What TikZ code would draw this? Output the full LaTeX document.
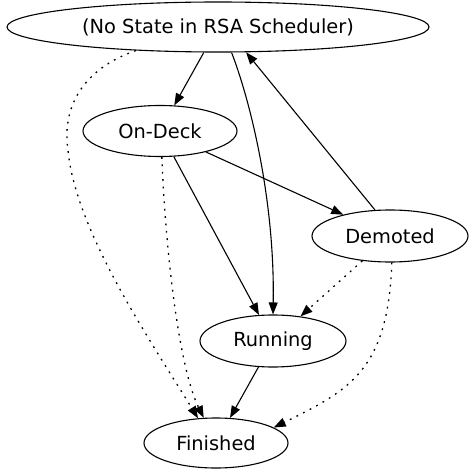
\documentclass[tikz,border=0pt]{standalone}
\usepackage{fontspec}
\setmainfont{DejaVu Sans}
\usetikzlibrary{shapes.geometric,arrows.meta}
\begin{document}
\begin{tikzpicture}[x=1pt,y=-1pt,
  state/.style={ellipse,draw,line width=1.1pt,inner sep=0pt,font=\fontsize{19.4}{23}\selectfont},
  edge/.style={line width=1.1pt,-{Triangle[length=12pt,width=9pt]}},
  dotedge/.style={edge,line width=1.3pt,dash pattern=on 1.8pt off 5.6pt}]
\useasboundingbox (0,0) rectangle (469,470);
\node[state,minimum width=422pt,minimum height=50pt] (top) at (218,27) {(No State in RSA Scheduler)};
\node[state,minimum width=154pt,minimum height=51pt] (ondeck) at (160,131) {On-Deck};
\node[state,minimum width=156pt,minimum height=52pt] (demoted) at (390,236) {Demoted};
\node[state,minimum width=146pt,minimum height=52pt] (running) at (273,341) {Running};
\node[state,minimum width=144pt,minimum height=50pt] (finished) at (216,443) {Finished};
\draw[edge] (top) -- (ondeck);
\draw[edge] (top.-62) .. controls (250,100) and (275,200) .. (running.north);
\draw[edge] (demoted.120) -- (top.-42);
\draw[dotedge] (top.-164) .. controls (80,70) and (62,110) .. (68,150) .. controls (75,230) and (150,340) .. (finished.126);
\draw[dotedge] (ondeck.-86) .. controls (166,260) and (180,370) .. (finished.116);
\draw[edge] (ondeck) -- (running);
\draw[edge] (ondeck) -- (demoted);
\draw[dotedge] (demoted) -- (running);
\draw[dotedge] (demoted.-86) .. controls (388,370) and (350,390) .. (finished.15);
\draw[edge] (running) -- (finished);
\end{tikzpicture}
\end{document}
